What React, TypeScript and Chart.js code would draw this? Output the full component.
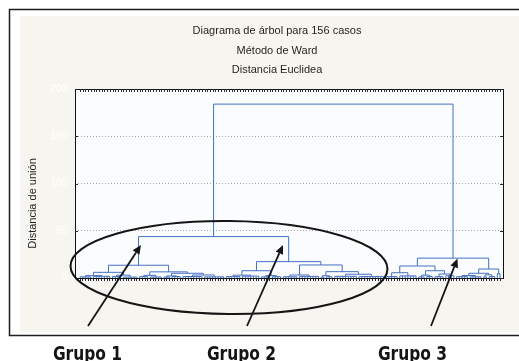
import React, { useEffect, useRef } from "react";
import { Chart, registerables } from "chart.js";

Chart.register(...registerables);

// Tree node: [height, left, right] for a merge, [leafCount, height] for a small bundle of cases
type Tree = [number, Tree, Tree] | [number, number];

const titleLines = ["Diagrama de árbol para 156 casos", "Método de Ward", "Distancia Euclidea"];
const yAxisTitle = "Distancia de unión";
const yTickValues = [0, 50, 100, 150, 200];
const groupLabels = ["Grupo 1", "Grupo 2", "Grupo 3"];
const caseCount = 156;

const rootHeight = 184;
const group12Height = 43.8;

const group1: Tree = [13.5,
  [6, [2.5, [5, 1.2], [7, 1.8]], [3, [4, 1.5], [6, 1.0]]],
  [6.5, [2.8, [4, 1.4], [5, 1.1]], [5, [2.2, [3, 1.0], [4, 1.5]], [3.2, [8, 1.6], [8, 1.2]]]],
];
const group2: Tree = [17.3,
  [7.7, [3, [6, 1.5], [7, 2.0]], [2.5, [4, 1.2], [4, 1.4]]],
  [13.8, [3.2, [6, 1.3], [8, 1.7]], [6.7, [2.4, [2, 1.0], [3, 1.3]], [4, [9, 1.8], [10, 1.5]]]],
];
const group3: Tree = [21,
  [12.7, [5.6, [5, 1.5], [7, 2.2]], [7.7, [3, [3, 1.2], [3, 1.6]], [4.2, [4, 1.4], [4, 2.4]]]],
  [9.5, [5, [2.6, [5, 1.4], [5, 1.2]], [3.4, [2, 1.1], [3, 1.5]]], [2, 4.5]],
];

// annotation overlay (ellipse around groups 1-2, arrows, group captions)
const ellipseBox = [229, 267.5, 158.5, 46.5];
const arrowFrom = [[88, 326], [247, 326], [431, 326]];
const arrowTo = [[141, 245], [283, 245], [457.5, 258.5]];
const labelCenters = [87.5, 241.5, 412.5];

type Seg = [number, number, number, number];

function build(tree: Tree, start: number, segs: Seg[]): { x: number; h: number; n: number } {
  if (tree.length === 2) {
    const [n, h] = tree as [number, number];
    const end = start + n - 1;
    if (n > 1 && h > 0) {
      for (let i = start; i <= end; i++) segs.push([i, 0, i, h]);
      segs.push([start, h, end, h]);
    }
    return { x: (start + end) / 2, h, n };
  }
  const [h, L, R] = tree as [number, Tree, Tree];
  const l = build(L, start, segs);
  const r = build(R, start + l.n, segs);
  segs.push([l.x, l.h, l.x, h]);
  segs.push([r.x, r.h, r.x, h]);
  segs.push([l.x, h, r.x, h]);
  return { x: (l.x + r.x) / 2, h, n: l.n + r.n };
}

const fullTree: Tree = [rootHeight, [group12Height, group1, group2], group3];

export default function App() {
  const ref = useRef<HTMLCanvasElement | null>(null);
  useEffect(() => {
    const canvas = ref.current;
    if (!canvas) return;
    const segs: Seg[] = [];
    build(fullTree, 0, segs);
    const pts: { x: number; y: number | null }[] = [];
    segs.forEach(([x1, y1, x2, y2]) => {
      pts.push({ x: x1, y: y1 }, { x: x2, y: y2 }, { x: x2, y: null });
    });
    const leafIdx = Array.from({ length: caseCount }, (_, i) => i);

    const deco = {
      id: "deco",
      beforeDraw(chart: any) {
        const c = chart.ctx;
        const a = chart.chartArea;
        c.save();
        c.fillStyle = "#ffffff";
        c.fillRect(0, 0, chart.width, chart.height);
        c.fillStyle = "#f7f5ef";
        c.fillRect(20, 16, chart.width - 20, 316);
        c.strokeStyle = "#1e1e1e";
        c.lineWidth = 1.5;
        c.strokeRect(9.5, 9.5, chart.width + 10, 326);
        c.fillStyle = "#fbfcfe";
        c.fillRect(a.left, a.top, a.right - a.left, a.bottom - a.top);
        // titles
        c.fillStyle = "#1f1f1f";
        c.font = "11px 'Liberation Sans', Arial, sans-serif";
        c.textAlign = "center";
        c.textBaseline = "alphabetic";
        titleLines.forEach((t, i) => c.fillText(t, 277, 34 + i * 19.6));
        c.save();
        c.translate(33, 203.5);
        c.rotate(-Math.PI / 2);
        c.textBaseline = "middle";
        c.fillText(yAxisTitle, 0, 0);
        c.restore();
        c.restore();
      },
      afterDraw(chart: any) {
        const c = chart.ctx;
        const a = chart.chartArea;
        const ys = chart.scales.y;
        const xs = chart.scales.x;
        c.save();
        c.strokeStyle = "#111";
        c.lineWidth = 1;
        c.strokeRect(Math.round(a.left) + 0.5, Math.round(a.top) + 0.5, Math.round(a.right - a.left), Math.round(a.bottom - a.top));
        c.beginPath();
        yTickValues.forEach((v) => {
          const py = Math.round(ys.getPixelForValue(v)) + 0.5;
          c.moveTo(a.left, py);
          c.lineTo(a.left + 3, py);
          c.moveTo(a.right - 3, py);
          c.lineTo(a.right, py);
        });
        // inward case ticks along the top border
        leafIdx.forEach((v) => {
          const px = Math.round(xs.getPixelForValue(v)) + 0.5;
          c.moveTo(px, a.top);
          c.lineTo(px, a.top + 3);
        });
        c.strokeStyle = "#262a40";
        c.stroke();
        // ellipse
        c.strokeStyle = "#151515";
        c.lineWidth = 2;
        c.beginPath();
        c.ellipse(ellipseBox[0], ellipseBox[1], ellipseBox[2], ellipseBox[3], 0.01, 0, Math.PI * 2);
        c.stroke();
        // arrows
        arrowFrom.forEach((f, i) => {
          const t = arrowTo[i];
          const ang = Math.atan2(t[1] - f[1], t[0] - f[0]);
          const hl = 9, hw = 4;
          const bx = t[0] - hl * Math.cos(ang), by = t[1] - hl * Math.sin(ang);
          c.beginPath();
          c.moveTo(f[0], f[1]);
          c.lineTo(bx, by);
          c.lineWidth = 1.8;
          c.stroke();
          c.beginPath();
          c.moveTo(t[0], t[1]);
          c.lineTo(bx + hw * Math.sin(ang), by - hw * Math.cos(ang));
          c.lineTo(bx - hw * Math.sin(ang), by + hw * Math.cos(ang));
          c.closePath();
          c.fillStyle = "#151515";
          c.fill();
        });
        // group captions
        c.fillStyle = "#141414";
        c.font = "bold 18px 'DejaVu Sans', sans-serif";
        c.textAlign = "center";
        c.textBaseline = "alphabetic";
        groupLabels.forEach((g, i) => {
          c.save();
          c.translate(labelCenters[i], 359.5);
          c.scale(0.86, 1.05);
          c.fillText(g, 0, 0);
          c.restore();
        });
        c.restore();
      },
    };

    const chart = new Chart(canvas, {
      type: "line",
      data: {
        datasets: [
          {
            data: pts as any,
            borderColor: "#4470c4",
            borderWidth: 1,
            pointRadius: 0,
            spanGaps: false,
            fill: false,
            tension: 0,
          },
        ],
      },
      options: {
        responsive: false,
        animation: false,
        devicePixelRatio: 1,
        layout: { padding: { left: 20, top: 89, right: 16, bottom: 83 } },
        plugins: { legend: { display: false }, tooltip: { enabled: false }, title: { display: false } },
        scales: {
          x: {
            type: "linear",
            position: "bottom",
            min: -1.85,
            max: 156.1,
            afterBuildTicks: (s: any) => {
              s.ticks = leafIdx.map((v) => ({ value: v }));
            },
            afterFit: (s: any) => {
              s.height = 0;
            },
            ticks: { display: false },
            border: { display: false },
            grid: { drawOnChartArea: false, drawTicks: true, tickLength: 3, tickColor: "#262a40", tickWidth: 1 },
          },
          y: {
            type: "linear",
            min: 0,
            max: 200,
            afterBuildTicks: (s: any) => {
              s.ticks = yTickValues.map((v) => ({ value: v }));
            },
            afterFit: (s: any) => {
              s.width = 55;
            },
            border: { display: false, dash: [1, 2] },
            grid: {
              drawTicks: false,
              color: (ctx: any) => (ctx.tick && (ctx.tick.value === 0 || ctx.tick.value === 200) ? "rgba(0,0,0,0)" : "#a8a8a8"),
            },
            ticks: {
              color: "#ffffff",
              padding: 8,
              font: { family: "'Liberation Sans', Arial, sans-serif", size: 10 },
            },
          },
        },
      },
      plugins: [deco],
    });
    return () => chart.destroy();
  }, []);

  return (
    <div style={{ position: "fixed", left: 0, top: 0, width: 519, height: 361 }}>
      <canvas ref={ref} width={519} height={361} style={{ display: "block", width: 519, height: 361 }} />
    </div>
  );
}
